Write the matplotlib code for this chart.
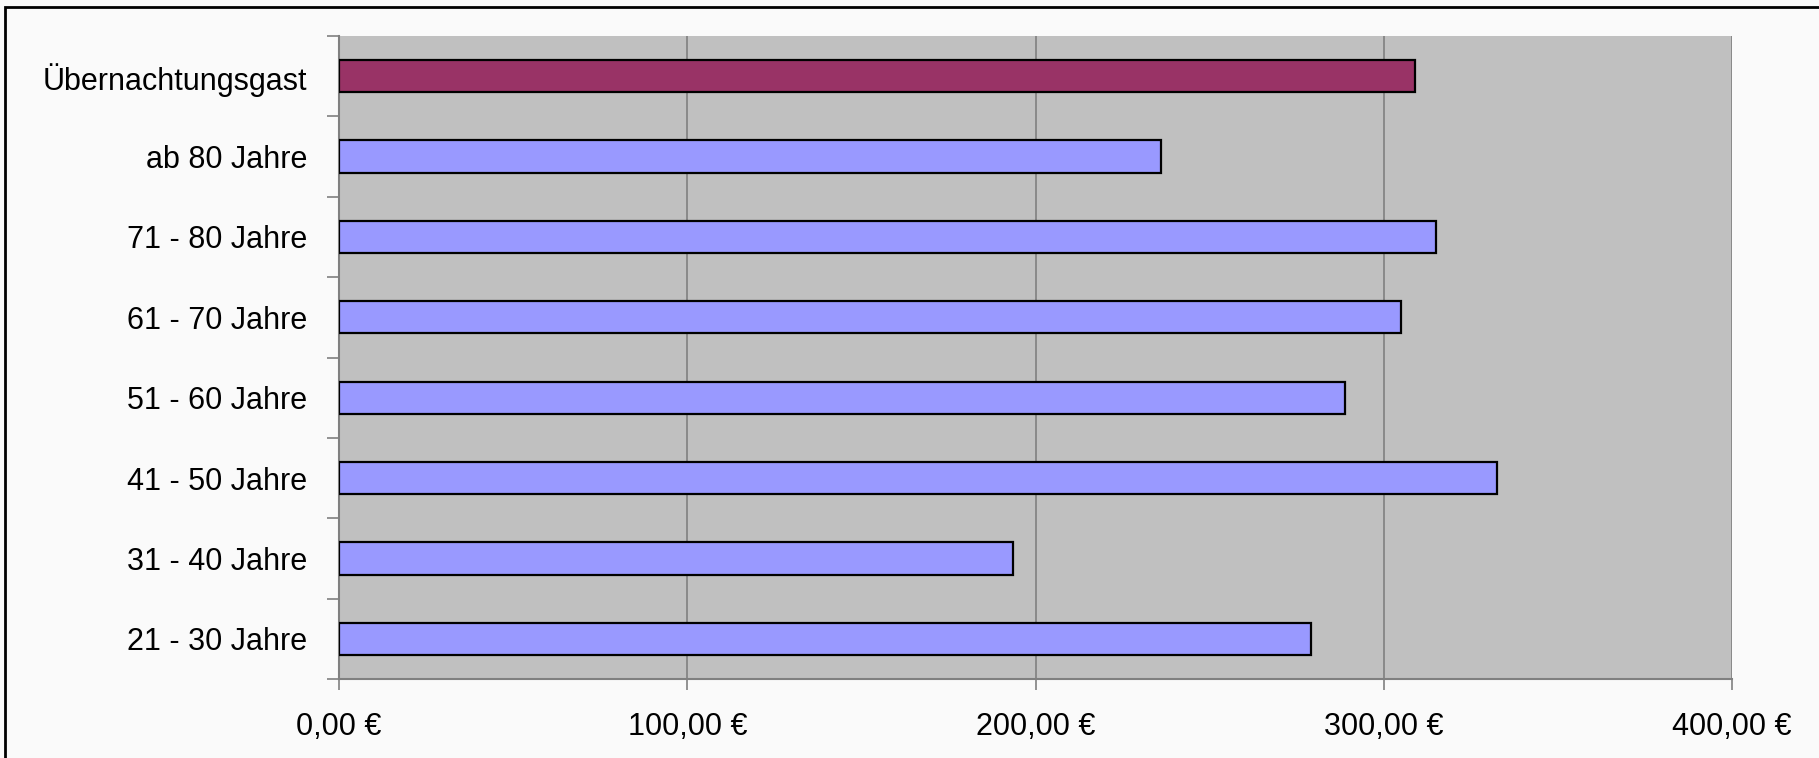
import matplotlib
matplotlib.use('Agg')
import matplotlib.pyplot as plt
from matplotlib.patches import Rectangle
from matplotlib.ticker import FuncFormatter

# ---------------------------
# Data (bottom to top)
# ---------------------------
categories = ["21 - 30 Jahre", "31 - 40 Jahre", "41 - 50 Jahre", "51 - 60 Jahre",
              "61 - 70 Jahre", "71 - 80 Jahre", "ab 80 Jahre", "Übernachtungsgast"]
values = [279, 193.5, 332.5, 289, 305, 315, 236, 309]
bar_colors = ["#9999FF"] * 7 + ["#993366"]
x_ticks = [0, 100, 200, 300, 400]

plt.rcParams['font.family'] = ['Liberation Sans', 'DejaVu Sans']

fig = plt.figure(figsize=(18.19, 7.58), dpi=100)
fig.patch.set_facecolor("#FAFAFA")
W, H = 1819, 758
ax = fig.add_axes([339 / W, 1 - 679 / H, (1732 - 339) / W, (679 - 36) / H])
ax.set_facecolor("#C0C0C0")

ypos = list(range(len(categories)))
ax.barh(ypos, values, height=0.4, color=bar_colors, edgecolor="black", linewidth=1.6, zorder=3)

ax.set_xlim(0, 400)
ax.set_ylim(-0.5, len(categories) - 0.5)
ax.set_xticks(x_ticks)
ax.xaxis.set_major_formatter(FuncFormatter(lambda v, p: f"{v:.2f}".replace(".", ",") + " €"))
ax.grid(axis="x", color="#808080", linewidth=1.2, zorder=1)

ax.set_yticks(ypos)
ax.set_yticklabels(categories)
ax.set_yticks([i - 0.5 for i in range(len(categories) + 1)], minor=True)
ax.tick_params(axis="y", which="major", length=0, pad=23, labelsize=22)
ax.tick_params(axis="y", which="minor", length=9, width=1.2, color="#808080")
ax.tick_params(axis="x", length=8, width=1.2, color="#808080", pad=16, labelsize=22)

ax.spines["top"].set_visible(False)
ax.spines["right"].set_visible(False)
for s in ["left", "bottom"]:
    ax.spines[s].set_color("#808080")
    ax.spines[s].set_linewidth(1.5)

# outer chart frame (only left and top edges fall inside the picture)
fig.patches.append(Rectangle((5 / W, -0.1), 1.2, 1.1 - 7 / H, transform=fig.transFigure,
                             fill=False, edgecolor="black", linewidth=2))

fig.savefig("out.png", dpi=100, facecolor=fig.get_facecolor())
